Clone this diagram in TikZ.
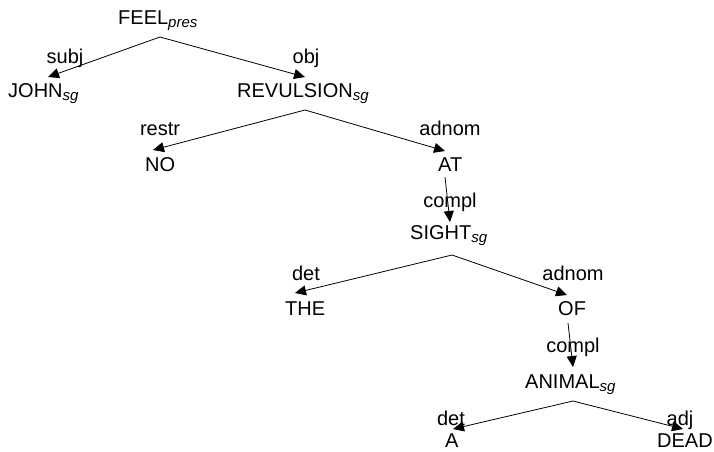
\documentclass[tikz,border=0pt]{standalone}
\usepackage{fontspec}
\setmainfont{Liberation Sans}
\usetikzlibrary{arrows.meta}
\newcommand{\mysub}[1]{\raisebox{-3.5pt}{\fontsize{15}{15}\selectfont\itshape #1}}
\begin{document}
\begin{tikzpicture}[x=1pt,y=-1pt,
  word/.style={inner sep=0pt,anchor=base west,font=\fontsize{20}{24}\selectfont},
  lab/.style={inner sep=0pt,anchor=base,font=\fontsize{20}{24}\selectfont},
  arr/.style={line width=0.8pt,-{Triangle[length=11pt,width=10pt]}}]
\useasboundingbox (0,0) rectangle (714,451);
% words
\node[word] (feel) at (118,24) {FEEL\mysub{pres}};
\node[word] (john) at (8,97) {JOHN\mysub{sg}};
\node[word] (revulsion) at (237,97) {REVULSION\mysub{sg}};
\node[word] (no) at (145,171) {NO};
\node[word] (at) at (438,171) {AT};
\node[word] (sight) at (410,239) {SIGHT\mysub{sg}};
\node[word] (the) at (285,315) {THE};
\node[word] (of) at (558,315) {OF};
\node[word] (animal) at (525,388) {ANIMAL\mysub{sg}};
\node[word] (a) at (445,447) {A};
\node[word] (dead) at (657,447) {DEAD};
% labels
\node[lab] (l-subj) at (65,63) {subj};
\node[lab] (l-obj) at (306,63) {obj};
\node[lab] (l-restr) at (160,135) {restr};
\node[lab] (l-adnom1) at (450,135) {adnom};
\node[lab] (l-compl1) at (450,207) {compl};
\node[lab] (l-det1) at (306,280) {det};
\node[lab] (l-adnom2) at (573,280) {adnom};
\node[lab] (l-compl2) at (573,352) {compl};
\node[lab] (l-det2) at (451,425) {det};
\node[lab] (l-adj) at (680,425) {adj};
% connector ends
\coordinate (feel-o) at (160,37);
\coordinate (john-i) at (48,77);
\coordinate (revulsion-i) at (305,77);
\coordinate (revulsion-o) at (305,110);
\coordinate (no-i) at (153,150);
\coordinate (at-i) at (445,151);
\coordinate (at-o) at (445,177);
\coordinate (sight-i) at (450,222);
\coordinate (sight-o) at (452,255);
\coordinate (the-i) at (295,293);
\coordinate (of-i) at (567,295);
\coordinate (of-o) at (568,323);
\coordinate (animal-i) at (573,367);
\coordinate (animal-o) at (573,401);
\coordinate (a-i) at (453,429);
\coordinate (dead-i) at (683,429);
% connectors
\draw[arr] (feel-o) -- (john-i);
\draw[arr] (feel-o) -- (revulsion-i);
\draw[arr] (revulsion-o) -- (no-i);
\draw[arr] (revulsion-o) -- (at-i);
\draw[arr] (at-o) -- (sight-i);
\draw[arr] (sight-o) -- (the-i);
\draw[arr] (sight-o) -- (of-i);
\draw[arr] (of-o) -- (animal-i);
\draw[arr] (animal-o) -- (a-i);
\draw[arr] (animal-o) -- (dead-i);
\end{tikzpicture}
\end{document}
